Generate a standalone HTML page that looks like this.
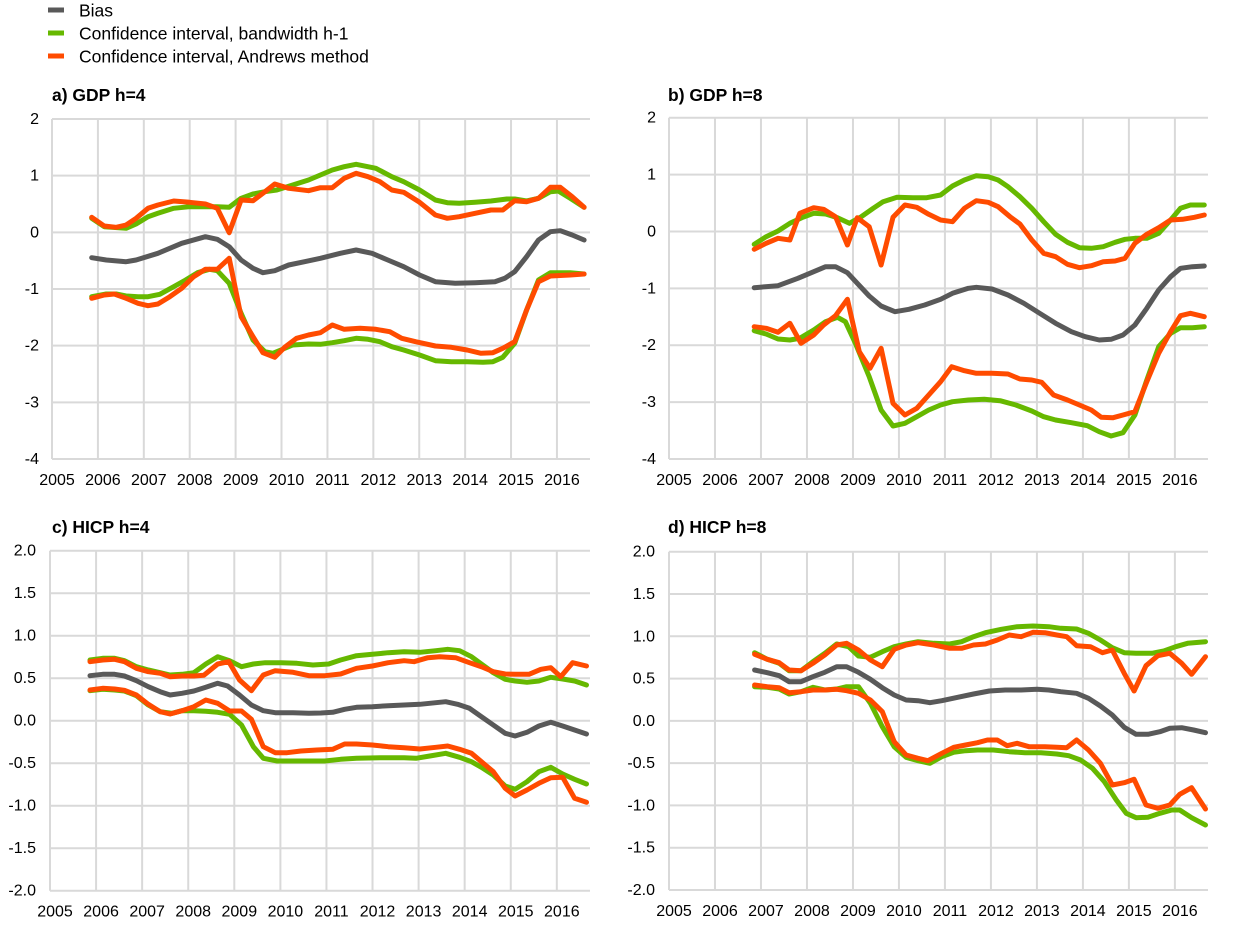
<!DOCTYPE html>
<html><head><meta charset="utf-8"><style>
html,body{margin:0;padding:0;background:#fff;}
svg{display:block;font-family:"Liberation Sans",Arial,sans-serif;}
</style></head><body>
<svg id="s" width="1240" height="926" viewBox="0 0 1240 926" xmlns="http://www.w3.org/2000/svg">
<rect width="1240" height="926" fill="#fff"/>
<rect x="48" y="7.5" width="16" height="5" fill="#595959"/>
<rect x="48" y="30.5" width="16" height="5" fill="#66b800"/>
<rect x="48" y="53.5" width="16" height="5" fill="#ff4b00"/>
<text x="79" y="16.5" font-size="17.5">Bias</text>
<text x="79" y="39.5" font-size="17.5">Confidence interval, bandwidth h-1</text>
<text x="79" y="62.5" font-size="17.5">Confidence interval, Andrews method</text>
<text x="52" y="101" font-size="17.5" font-weight="bold">a) GDP h=4</text>
<text x="668" y="101" font-size="17.5" font-weight="bold">b) GDP h=8</text>
<text x="52" y="533" font-size="17.5" font-weight="bold">c) HICP h=4</text>
<text x="668" y="533" font-size="17.5" font-weight="bold">d) HICP h=8</text>
<g id="g"></g>
</svg>
<script>
var NS="http://www.w3.org/2000/svg",G=document.getElementById("g");
function el(t,a,txt){var e=document.createElementNS(NS,t);for(var k in a)e.setAttribute(k,a[k]);if(txt!=null)e.textContent=txt;G.appendChild(e);return e;}
var F=0.3965;
var P=[
{L:52,R:590,T:119,B:459,zL:133,oy:0,vals:["2","1","0","-1","-2","-3","-4"],lx:39},
{L:669,R:1208,T:117.7,B:459,zL:125,oy:80,vals:["2","1","0","-1","-2","-3","-4"],lx:656},
{L:50,R:590,T:550.7,B:890.7,zL:127,oy:520,vals:["2.0","1.5","1.0","0.5","0.0","-0.5","-1.0","-1.5","-2.0"],lx:36},
{L:669,R:1208,T:551.7,B:890,zL:122,oy:520,vals:["2.0","1.5","1.0","0.5","0.0","-0.5","-1.0","-1.5","-2.0"],lx:655}
];
var D=[
[[[233,773],[270,780],[320,785],[345,780],[400,760],[460,730],[520,710],[550,718],[580,740],[610,780],[640,805],[665,818],[695,812],[730,795],[770,785],[810,775],[860,760],[900,750],[940,760],[980,780],[1020,800],[1060,825],[1100,845],[1150,850],[1200,848],[1250,845],[1275,835],[1300,815],[1330,770],[1360,720],[1390,695],[1415,692],[1445,705],[1475,720]],
[[233,655],[265,680],[320,685],[345,672],[375,650],[400,640],[440,625],[480,620],[520,620],[550,620],[580,622],[610,595],[640,582],[670,575],[700,570],[740,555],[780,540],[810,525],[840,510],[870,500],[900,493],[950,505],[990,530],[1020,545],[1060,570],[1100,600],[1130,608],[1160,610],[1200,607],[1240,603],[1280,597],[1300,597],[1330,603],[1360,595],[1390,575],[1410,573],[1440,595],[1475,622]],
[[233,890],[270,882],[295,882],[320,888],[350,890],[375,890],[405,883],[440,860],[470,840],[500,818],[530,808],[550,812],[580,850],[610,940],[640,1020],[670,1055],[690,1060],[710,1050],[740,1035],[780,1032],[810,1033],[840,1028],[870,1022],[900,1015],[930,1018],[960,1025],[990,1040],[1020,1050],[1060,1065],[1100,1082],[1140,1085],[1180,1085],[1220,1087],[1245,1085],[1270,1072],[1300,1030],[1330,930],[1360,840],[1390,818],[1440,818],[1475,822]],
[[233,652],[265,678],[295,682],[320,675],[345,655],[375,625],[400,615],[440,603],[480,607],[520,612],[550,625],[580,698],[610,600],[640,602],[670,575],[695,552],[730,565],[780,572],[810,563],[840,563],[870,535],[900,520],[930,530],[960,545],[990,570],[1020,577],[1060,607],[1100,645],[1130,655],[1160,650],[1200,640],[1240,630],[1270,630],[1300,602],[1330,605],[1360,595],[1390,562],[1415,562],[1445,590],[1475,622]],
[[233,895],[265,885],[290,882],[320,895],[350,910],[375,917],[400,912],[430,890],[460,865],[490,830],[520,808],[550,808],[580,775],[610,950],[640,1010],[665,1058],[695,1072],[720,1042],[750,1015],[780,1005],[810,998],[840,975],[870,988],[910,985],[950,988],[985,995],[1015,1015],[1050,1025],[1100,1038],[1140,1042],[1180,1050],[1215,1060],[1245,1058],[1270,1045],[1300,1025],[1330,930],[1360,845],[1390,828],[1440,825],[1475,822]]],
[[[340,623],[400,617],[450,595],[490,575],[520,560],[545,560],[575,578],[600,610],[630,648],[660,678],[695,695],[730,688],[770,675],[810,658],[840,640],[880,625],[900,622],[940,627],[980,645],[1020,670],[1060,700],[1100,730],[1140,755],[1175,770],[1210,780],[1240,778],[1270,765],[1300,735],[1330,685],[1360,630],[1390,590],[1415,565],[1445,560],[1475,558]],
[[340,493],[370,470],[400,453],[430,430],[460,413],[490,400],[520,402],[550,413],[580,430],[610,410],[640,385],[665,365],[700,352],[740,353],[775,353],[810,345],[840,318],[870,300],[900,287],[930,290],[955,300],[980,320],[1010,350],[1040,385],[1070,425],[1100,463],[1130,487],[1160,503],[1190,505],[1220,500],[1250,487],[1275,478],[1300,475],[1330,475],[1360,460],[1390,420],[1415,385],[1440,375],[1475,375]],
[[340,752],[370,762],[400,777],[430,780],[455,775],[490,750],[520,725],[550,712],[570,725],[595,790],[630,890],[660,990],[690,1038],[720,1030],[750,1010],[780,990],[810,975],[840,965],[880,960],[920,958],[960,962],[1000,975],[1040,993],[1070,1010],[1100,1020],[1140,1028],[1180,1037],[1210,1055],[1240,1068],[1270,1058],[1300,1005],[1330,900],[1360,800],[1390,760],[1415,743],[1445,743],[1475,740]],
[[340,508],[370,490],[400,475],[430,480],[455,400],[490,383],[515,388],[545,410],[575,495],[600,413],[630,440],[660,555],[690,412],[720,375],[750,382],[780,403],[810,420],[840,425],[870,385],[900,362],[930,367],[955,380],[985,410],[1010,432],[1040,480],[1070,520],[1100,530],[1130,553],[1160,563],[1190,557],[1220,545],[1250,543],[1275,535],[1300,490],[1330,463],[1360,443],[1390,420],[1420,418],[1450,412],[1475,405]],
[[340,740],[370,745],[400,757],[430,730],[458,790],[490,765],[515,735],[545,707],[575,658],[605,815],[632,865],[660,805],[690,970],[720,1005],[750,985],[780,945],[810,905],[838,860],[870,872],[900,880],[940,880],[980,882],[1010,897],[1040,900],[1065,907],[1095,945],[1130,960],[1160,975],[1190,990],[1215,1012],[1245,1013],[1270,1005],[1300,995],[1330,905],[1360,820],[1390,755],[1415,707],[1440,700],[1475,710]]],
[[[228,467],[260,463],[290,463],[315,468],[345,482],[375,500],[405,515],[430,525],[460,520],[490,513],[520,502],[550,490],[575,498],[605,525],[635,555],[665,572],[695,578],[740,578],[780,580],[810,579],[840,577],[870,568],[900,562],[940,560],[980,557],[1020,555],[1060,553],[1100,548],[1125,545],[1155,553],[1185,565],[1215,590],[1245,615],[1275,640],[1300,648],[1330,637],[1360,618],[1390,607],[1420,618],[1450,630],[1480,642]],
[[228,420],[260,415],[290,415],[315,422],[345,440],[375,450],[405,458],[430,465],[460,463],[490,458],[520,432],[550,410],[580,422],[610,440],[640,432],[670,428],[710,428],[750,430],[790,435],[830,432],[860,420],[900,407],[940,403],[980,398],[1020,395],[1060,397],[1100,392],[1130,388],[1160,392],[1190,410],[1215,432],[1245,458],[1275,478],[1300,483],[1330,487],[1360,483],[1390,472],[1420,477],[1450,483],[1480,495]],
[[228,512],[260,508],[290,510],[315,513],[345,527],[375,555],[405,575],[435,580],[460,572],[490,572],[520,574],[550,577],[580,583],[610,615],[640,680],[665,715],[700,723],[760,723],[820,723],[860,718],[900,715],[960,713],[1020,713],[1050,715],[1085,708],[1125,700],[1160,712],[1190,725],[1215,742],[1245,765],[1275,798],[1300,808],[1330,785],[1360,755],[1390,742],[1420,762],[1450,778],[1480,792]],
[[228,425],[260,420],[290,418],[315,425],[345,445],[375,455],[405,460],[430,470],[460,468],[490,468],[515,466],[550,432],[578,425],[605,480],[635,512],[665,465],[695,452],[740,457],[780,467],[820,467],[860,462],[900,445],[940,438],[980,428],[1020,422],[1045,425],[1080,413],[1110,410],[1150,413],[1185,428],[1215,440],[1245,455],[1275,462],[1300,463],[1335,463],[1365,448],[1390,443],[1415,470],[1445,428],[1480,438]],
[[228,510],[260,505],[290,507],[315,511],[345,525],[375,553],[405,575],[430,582],[460,572],[490,560],[520,540],[550,550],[580,573],[610,573],[635,598],[665,680],[695,698],[725,698],[760,693],[800,690],[840,688],[870,672],[900,672],[940,675],[980,680],[1020,683],[1060,687],[1100,682],[1130,678],[1160,688],[1190,700],[1215,725],[1245,755],[1275,805],[1300,828],[1330,810],[1360,790],[1390,773],[1420,772],[1450,835],[1480,847]]],
[[[338,450],[370,458],[400,467],[425,485],[455,485],[485,470],[515,457],[545,440],[570,440],[600,457],[630,478],[660,503],[690,525],[720,540],[750,542],[780,548],[810,542],[850,532],[890,522],[930,513],[970,510],[1010,510],[1050,508],[1080,510],[1110,515],[1150,520],[1180,535],[1210,558],[1240,585],[1270,622],[1300,643],[1330,643],[1360,635],[1385,625],[1415,623],[1445,630],[1475,638]],
[[338,398],[370,418],[400,430],[425,452],[455,452],[485,425],[515,400],[545,372],[575,380],[600,408],[630,412],[660,395],[690,380],[720,372],[750,365],[790,370],[830,372],[860,365],[890,350],[920,338],[960,328],[1000,320],[1040,318],[1080,320],[1110,325],[1150,327],[1180,340],[1210,360],[1240,383],[1270,398],[1300,400],[1340,400],[1370,393],[1400,380],[1430,370],[1475,365]],
[[338,500],[370,502],[400,507],[425,522],[455,515],[485,502],[515,510],[545,507],[570,500],[600,500],[630,550],[660,620],[690,680],[720,712],[750,722],[780,730],[810,710],[840,697],[870,692],[900,690],[940,690],[980,695],[1020,698],[1060,698],[1100,702],[1130,707],[1160,720],[1190,745],[1220,785],[1250,840],[1275,880],[1300,893],[1330,892],[1360,880],[1390,870],[1410,870],[1440,893],[1475,915]],
[[338,403],[370,418],[400,428],[425,450],[455,452],[485,430],[515,405],[545,375],[570,370],[600,390],[630,420],[660,440],[690,388],[720,375],[750,368],[790,375],[830,385],[860,385],[890,375],[920,372],[950,360],[980,345],[1010,350],[1040,337],[1070,338],[1100,345],[1125,350],[1150,377],[1185,380],[1215,398],[1240,390],[1270,460],[1295,513],[1325,437],[1355,407],[1385,400],[1415,430],[1440,463],[1475,410]],
[[338,495],[370,500],[400,503],[425,518],[455,515],[485,510],[515,510],[545,508],[570,512],[600,520],[630,540],[660,575],[690,665],[720,705],[750,715],[775,722],[810,700],[840,682],[870,675],[900,668],[925,660],[950,660],[975,677],[1000,670],[1030,680],[1070,680],[1100,682],[1125,683],[1150,660],[1180,690],[1210,730],[1240,795],[1270,788],[1295,778],[1325,855],[1355,865],[1385,855],[1410,823],[1440,803],[1475,867]]]
];
var COL=["#595959","#66b800","#66b800","#ff4b00","#ff4b00"];
P.forEach(function(p,i){
  var sp=(p.R-p.L)/11.72, n=p.vals.length;
  for(var k=0;k<n;k++){var y=p.T+(p.B-p.T)*k/(n-1);
    el("line",{x1:p.L,x2:p.R,y1:y,y2:y,stroke:"#d9d9d9","stroke-width":2});
    el("text",{x:p.lx,y:y+5,"font-size":16,"text-anchor":"end"},p.vals[k]);}
  for(var j=0;j<12;j++){var x=p.L+j*sp;
    el("line",{x1:x,x2:x,y1:p.T,y2:p.B,stroke:"#d9d9d9","stroke-width":2});
    el("text",{x:x+5,y:p.B+26,"font-size":16,"text-anchor":"middle"},String(2005+j));}
  D[i].forEach(function(s,si){
    var pts=s.map(function(q){return (p.L+(q[0]-p.zL)*F).toFixed(1)+","+(p.oy+q[1]/3).toFixed(1);}).join(" ");
    el("polyline",{points:pts,fill:"none",stroke:COL[si],"stroke-width":5,"stroke-linejoin":"round","stroke-linecap":"round"});
  });
});
</script>
</body></html>
